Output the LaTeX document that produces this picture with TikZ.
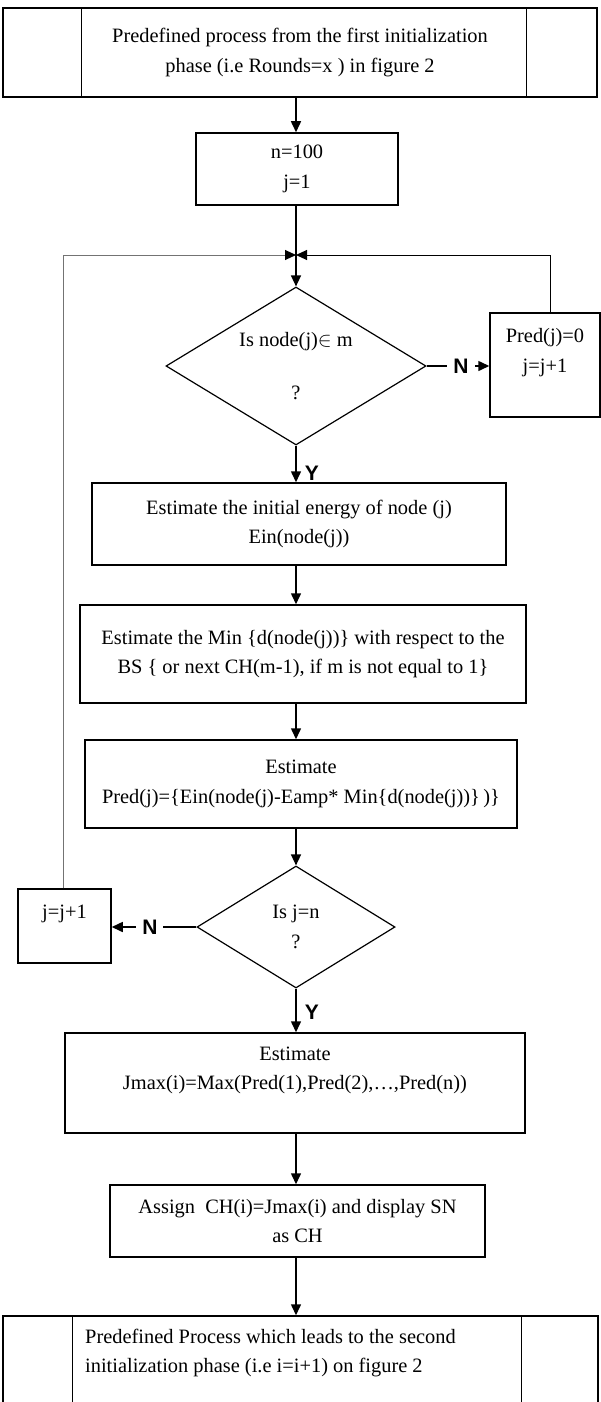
\documentclass[tikz,border=0pt]{standalone}
\usepackage{fontspec}
\setmainfont{Liberation Serif}
\newfontfamily\labfont{Liberation Sans}
\usetikzlibrary{arrows.meta,shapes.geometric}
\begin{document}
\begin{tikzpicture}
    [
    x=1pt,y=-1pt,
    >={Triangle[length=11pt,width=10pt]},
    every node/.style={font=\fontsize{20.4}{29.5}\selectfont,inner sep=0pt},
    procbox/.style={draw,line width=1.5pt,align=center},
    decision/.style={draw,diamond,line width=1.2pt,align=center,shape aspect=1.65},
    flow/.style={line width=1.5pt,->},
    loopline/.style={line width=1pt,draw=black!55,-{Triangle[length=11pt,width=10pt,color=black]}},
    lab/.style={font=\labfont\bfseries\fontsize{21}{24}\selectfont,fill=white,inner xsep=6pt},
    ]
    \useasboundingbox (0,0) rectangle (600,1402);
    \coordinate (axis) at (296,0);
    \coordinate (jn) at (296,255);
    \node[procbox,minimum width=594pt,minimum height=89pt] (first) at (300,52.5)
      {Predefined process from the first initialization\\phase (i.e Rounds=x ) in figure 2};
    \draw[line width=1.2pt] ([xshift=79pt]first.north west) -- ([xshift=79pt]first.south west);
    \draw[line width=1.2pt] ([xshift=-71pt]first.north east) -- ([xshift=-71pt]first.south east);
    \node[procbox,minimum width=202pt,minimum height=72pt] (init) at (297,169) {n=100\\j=1};
    \node[decision,minimum width=260pt,minimum height=158pt] (ism) at (296,366)
      {Is node(j)$\in$ m\\[23pt]?};
    \node[procbox,minimum width=110pt,minimum height=104pt] (zero) at (545,365)
      {Pred(j)=0\\j=j+1\\~};
    \node[procbox,minimum width=414pt,minimum height=82pt] (ein) at (299,524)
      {Estimate the initial energy of node (j)\\Ein(node(j))};
    \node[procbox,minimum width=446pt,minimum height=98pt] (mind) at (303,654)
      {Estimate the Min \{d(node(j))\} with respect to the\\BS \{ or next CH(m-1), if m is not equal to 1\}};
    \node[procbox,minimum width=432pt,minimum height=88pt] (pred) at (301,784)
      {Estimate\\Pred(j)=\{Ein(node(j)-Eamp* Min\{d(node(j))\}\,)\}};
    \node[decision,minimum width=198pt,minimum height=122pt] (isn) at (296,927) {Is j=n\\?};
    \node[procbox,minimum width=93pt,minimum height=74pt] (incr) at (64.5,926) {j=j+1\\~};
    \node[procbox,minimum width=460pt,minimum height=100pt] (jmax) at (295,1083)
      {Estimate\\Jmax(i)=Max(Pred(1),Pred(2),\dots,Pred(n))\\~};
    \node[procbox,minimum width=375pt,minimum height=72pt] (assign) at (297.5,1221)
      {Assign\ \ CH(i)=Jmax(i) and display SN\\as CH};
    \node[procbox,minimum width=595pt,minimum height=88pt] (second) at (300.5,1360) {};
    \node[anchor=west,align=left] (secondtxt) at (85,1353)
      {Predefined Process which leads to the second\\initialization phase (i.e i=i+1) on figure 2};
    \draw[line width=1.2pt] ([xshift=70pt]second.north west) -- ([xshift=70pt]second.south west);
    \draw[line width=1.2pt] ([xshift=-77pt]second.north east) -- ([xshift=-77pt]second.south east);
    \draw[flow] (first.south -| axis) -- (init.north -| axis);
    \draw[line width=1.5pt] (init.south -| axis) -- (jn);
    \draw[flow] (jn) -- (ism.north);
    \draw[flow] (ism.east) -- node[lab,pos=0.55]{N} (zero.west |- ism.east);
    \draw[flow,line width=1pt] ([xshift=5pt]zero.north) |- (jn);
    \draw[flow] (ism.south) -- node[lab,right,pos=0.75,fill=none,xshift=2pt]{Y} (ein.north -| axis);
    \draw[flow] (ein.south -| axis) -- (mind.north -| axis);
    \draw[flow] (mind.south -| axis) -- (pred.north -| axis);
    \draw[flow] (pred.south -| axis) -- (isn.north);
    \draw[flow] (isn.west) -- node[lab,pos=0.55]{N} (incr.east |- isn.west);
    \draw[loopline] ([xshift=-1.5pt]incr.north) |- (jn);
    \draw[flow] (isn.south) -- node[lab,right,pos=0.55,fill=none,xshift=2pt]{Y} (jmax.north -| axis);
    \draw[flow] (jmax.south -| axis) -- (assign.north -| axis);
    \draw[flow] (assign.south -| axis) -- (second.north -| axis);
  \end{tikzpicture}
\end{document}
